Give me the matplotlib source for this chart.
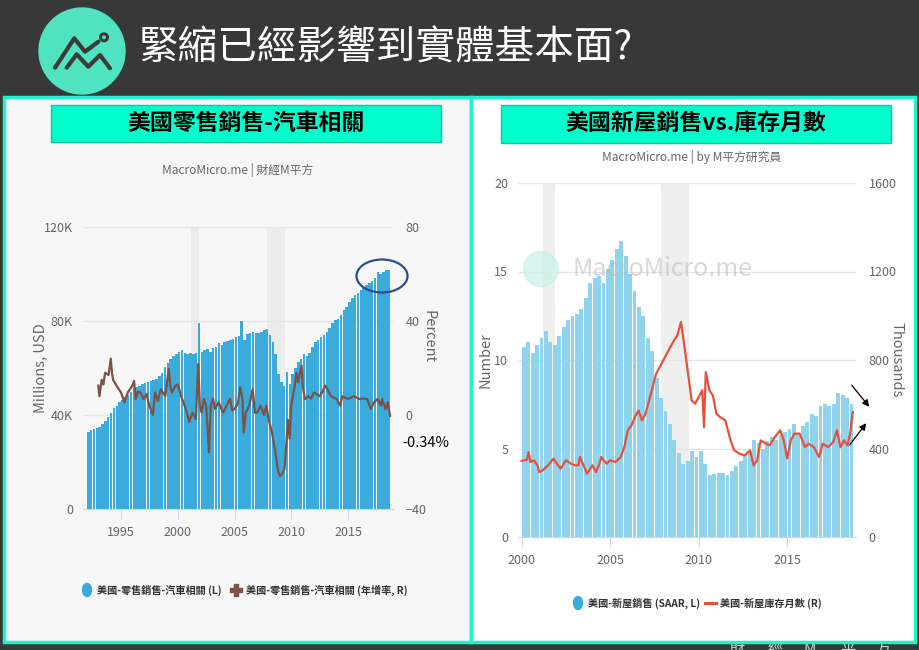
import matplotlib
matplotlib.use("Agg")
import matplotlib.pyplot as plt
from matplotlib.patches import Rectangle, Ellipse, FancyArrowPatch
from matplotlib.lines import Line2D
import numpy as np

plt.rcParams['font.family'] = ['Noto Sans CJK TC', 'DejaVu Sans']

# ---- data: US retail sales, auto related (quarterly, K USD mn) ----
auto_start = 1992
auto_sales = [32.7, 33.5, 34.0, 34.5, 35.0, 36.0, 37.5, 39.0, 41.0, 43.0, 44.0, 45.5,
              46.5, 47.5, 48.5, 50.0, 51.5, 52.0, 52.5, 53.0, 53.5, 54.0, 54.5, 55.0,
              55.5, 56.5, 58.0, 60.5, 62.0, 64.0, 65.0, 66.0, 67.0, 67.5, 66.5, 66.0,
              66.5, 66.0, 66.5, 79.0, 67.0, 67.5, 68.0, 67.0, 68.5, 69.0, 70.5, 70.0,
              71.0, 71.5, 72.0, 72.5, 73.0, 73.5, 80.0, 72.0, 74.5, 75.0, 75.5, 75.0,
              75.0, 75.5, 76.0, 76.5, 74.0, 71.0, 66.0, 57.5, 54.0, 52.5, 58.5, 53.0,
              57.5, 60.0, 62.5, 64.0, 66.0, 65.0, 66.5, 69.0, 71.0, 72.0, 73.0, 74.0,
              75.5, 77.0, 79.0, 80.5, 81.0, 82.5, 84.5, 86.0, 88.0, 90.0, 91.0, 92.0,
              93.0, 94.0, 95.5, 96.0, 97.0, 98.5, 101.0, 100.0, 101.0, 101.5, 101.7]

# year-over-year change (%)
auto_yoy_t = [1993.0, 1993.1, 1993.3, 1993.45, 1993.6, 1993.9, 1994.1, 1994.2, 1994.3, 1994.6,
              1995.0, 1995.3, 1995.6, 1996.0, 1996.15, 1996.3, 1996.5, 1996.7, 1997.0, 1997.25,
              1997.5, 1997.8, 1998.0, 1998.25, 1998.5, 1998.9, 1999.2, 1999.35, 1999.5, 1999.8,
              2000.0, 2000.3, 2000.5, 2000.8, 2001.0, 2001.3, 2001.6, 2001.8, 2001.95, 2002.1,
              2002.3, 2002.5, 2002.75, 2002.9, 2003.1, 2003.3, 2003.6, 2003.8, 2004.0, 2004.3,
              2004.6, 2004.8, 2005.0, 2005.3, 2005.5, 2005.7, 2005.8, 2006.0, 2006.3, 2006.6,
              2006.8, 2007.0, 2007.3, 2007.6, 2007.8, 2008.0, 2008.3, 2008.6, 2008.85, 2009.0,
              2009.2, 2009.4, 2009.55, 2009.7, 2009.85, 2010.0, 2010.3, 2010.45, 2010.6, 2010.9,
              2011.0, 2011.2, 2011.5, 2011.75, 2012.0, 2012.5, 2012.75, 2013.0, 2013.5, 2014.0,
              2014.3, 2014.5, 2015.0, 2015.5, 2016.0, 2016.3, 2016.7, 2017.0, 2017.3, 2017.6,
              2017.9, 2018.0, 2018.3, 2018.5, 2018.7]
auto_yoy = [12.5, 8.0, 15.0, 13.0, 18.0, 17.0, 24.0, 18.0, 15.0, 12.5,
            9.6, 5.4, 9.6, 12.5, 14.5, 6.8, 10.0, 9.6, 6.8, 9.0,
            4.0, 0.0, 9.6, 6.0, 11.0, 8.0, 19.6, 12.0, 9.6, 12.5,
            13.0, 8.0, 5.4, 1.0, -3.0, 1.0, -1.7, 21.7, 4.0, 1.0,
            6.8, 4.0, -16.0, 4.0, 7.0, 2.5, 5.4, 3.0, 1.0, 4.0,
            6.8, 2.0, 2.5, 5.0, 11.8, 6.8, -7.4, 1.0, 4.0, 11.0,
            1.0, 1.0, 4.0, 0.0, 4.0, -1.7, -7.4, -16.0, -24.0, -26.0,
            -25.0, -23.0, -13.0, -2.0, -10.0, 4.0, 12.5, 18.0, 14.0, 21.0,
            12.5, 6.8, 8.0, 7.0, 9.6, 8.0, 10.0, 12.5, 8.0, 6.8,
            4.0, 8.0, 6.8, 8.0, 6.8, 7.0, 6.8, 2.5, 5.4, 6.8,
            4.0, 6.8, 2.5, 5.4, -0.34]

# ---- data: US new home sales (quarterly, K SAAR) and months' supply ----
home_start = 2000
home_sales = [860, 880, 830, 870, 900, 930, 880, 870, 910, 950, 980, 1000,
              1010, 1030, 1080, 1150, 1170, 1180, 1150, 1210, 1250, 1300, 1340, 1270,
              1190, 1110, 1040, 1000, 900, 840, 720, 630, 570, 510, 440, 380,
              330, 345, 390, 360, 390, 330, 280, 285, 290, 290, 280, 300,
              320, 345, 370, 390, 440, 425, 400, 435, 450, 440, 460, 475,
              490, 510, 470, 500, 520, 555, 545, 590, 600, 590, 600, 650,
              640, 630, 600]

supply_t = [2000.0, 2000.3, 2000.4, 2000.5, 2000.7, 2000.9, 2001.0, 2001.2, 2001.5, 2001.8,
            2002.0, 2002.2, 2002.5, 2002.8, 2003.0, 2003.2, 2003.3, 2003.5, 2003.7, 2004.0,
            2004.2, 2004.4, 2004.5, 2004.8, 2005.0, 2005.3, 2005.6, 2005.8, 2006.0, 2006.2,
            2006.4, 2006.6, 2006.8, 2007.0, 2007.2, 2007.4, 2007.6, 2007.8, 2008.0, 2008.2,
            2008.4, 2008.6, 2008.8, 2009.0, 2009.2, 2009.4, 2009.6, 2009.8, 2010.0, 2010.2,
            2010.3, 2010.4, 2010.6, 2010.8, 2011.0, 2011.2, 2011.5, 2011.8, 2012.0, 2012.3,
            2012.6, 2012.9, 2013.1, 2013.3, 2013.5, 2013.8, 2014.0, 2014.3, 2014.6, 2014.8,
            2015.0, 2015.2, 2015.4, 2015.7, 2016.0, 2016.2, 2016.5, 2016.8, 2017.0, 2017.3,
            2017.6, 2017.8, 2018.0, 2018.2, 2018.4, 2018.55, 2018.7]
supply = [4.3, 4.37, 4.8, 4.24, 4.33, 4.05, 3.67, 3.77, 4.05, 4.43,
          4.14, 3.86, 4.33, 4.14, 4.05, 4.05, 4.52, 4.05, 3.58, 4.05,
          3.67, 4.14, 4.52, 4.14, 4.33, 4.24, 4.52, 5.08, 6.03, 6.3,
          6.78, 7.15, 6.59, 6.97, 7.72, 8.47, 9.23, 9.6, 9.98, 10.36,
          10.73, 11.1, 11.4, 12.15, 10.73, 9.23, 7.72, 7.53, 7.9, 8.29,
          6.21, 9.32, 8.29, 8.0, 6.97, 6.78, 6.59, 5.46, 4.9, 4.71,
          4.61, 4.9, 4.05, 4.33, 5.46, 5.27, 5.18, 5.65, 6.03, 5.46,
          4.43, 5.46, 5.84, 5.84, 5.08, 5.27, 5.08, 4.52, 5.27, 5.08,
          5.37, 6.03, 5.08, 5.46, 5.18, 5.84, 7.06]

recessions = [(2001.2, 2001.9), (2007.9, 2009.45)]

W, H = 920, 650


def fx(x):
    return x / W


def fy(y):
    return 1 - y / H


def box(x0, y0, x1, y1, **kw):
    r = Rectangle((fx(x0), fy(y1)), fx(x1) - fx(x0), fy(y0) - fy(y1),
                  transform=fig.transFigure, **kw)
    fig.add_artist(r)
    return r


def disc(x, y, w, h, **kw):
    # ellipse given in pixels (centre, full width, full height)
    e = Ellipse((fx(x), fy(y)), w / W, h / H, transform=fig.transFigure, **kw)
    fig.add_artist(e)
    return e


def style_axes(ax, xticks):
    for s in ['top', 'left', 'right']:
        ax.spines[s].set_visible(False)
    ax.spines['bottom'].set_color('#ccd6eb')
    ax.set_xticks(xticks)
    ax.tick_params(axis='x', length=7, color='#ccd6eb', labelcolor='#666666',
                   labelsize=9, pad=5)
    ax.tick_params(axis='y', length=0, labelcolor='#666666', labelsize=9)
    ax.grid(axis='y', color='#e6e6e6', lw=1)
    ax.set_axisbelow(True)


fig = plt.figure(figsize=(9.2, 6.5), dpi=100, facecolor='#383838')

# header
disc(82, 51, 86, 86, color='#50e3c2', zorder=2)
logo_a = [(55, 67.7), (74.3, 38.3), (85, 51.7), (98.3, 41.7)]
logo_b = [(66.7, 67.7), (76.7, 54.3), (88.3, 66.7), (100, 55), (110, 68.3)]
for pts in (logo_a, logo_b):
    fig.add_artist(Line2D([fx(p[0]) for p in pts], [fy(p[1]) for p in pts],
                          transform=fig.transFigure, color='#3a3a3a', lw=3,
                          solid_capstyle='round', zorder=3))
disc(104, 37.3, 7, 7, fill=False, ec='#3a3a3a', lw=2.2, zorder=3)
fig.text(fx(138), fy(49), '緊縮已經影響到實體基本面?', color='white', fontsize=28.5,
         va='center', ha='left')

# faint footer, mostly hidden behind the right panel
for xx, ch in zip([737, 775, 810, 848, 883], ['財', '經', 'M', '平', '方']):
    fig.text(fx(xx), fy(641), ch, color='#cfcfcf', fontsize=11, ha='center',
             va='top', zorder=0.5)

# panels
box(4, 97, 471, 642, facecolor='#f7f7f7', edgecolor='#1ff2cc', lw=2.5, zorder=1)
box(471, 97, 915, 642, facecolor='white', edgecolor='#1ff2cc', lw=2.5, zorder=1)
box(51, 105, 441, 142, facecolor='#00ffcc', edgecolor='#10c8a0', lw=1, zorder=2)
box(501, 105, 891, 143, facecolor='#00ffcc', edgecolor='#10c8a0', lw=1, zorder=2)
fig.text(fx(246), fy(123.5), '美國零售銷售-汽車相關', fontsize=16.5, fontweight='bold',
         ha='center', va='center', zorder=3)
fig.text(fx(696), fy(124), '美國新屋銷售vs.庫存月數', fontsize=16.5, fontweight='bold',
         ha='center', va='center', zorder=3)
fig.text(fx(238), fy(170), 'MacroMicro.me | 財經M平方', fontsize=8.5, color='#666666',
         ha='center', va='center')
fig.text(fx(692), fy(157), 'MacroMicro.me | by M平方研究員', fontsize=8.5,
         color='#666666', ha='center', va='center')

# ---- left chart ----
ax1 = fig.add_axes([fx(84), fy(509), fx(393) - fx(84), fy(227) - fy(509)])
ax1.set_zorder(5)
ax1.patch.set_visible(False)
x_auto = auto_start + 0.125 + 0.25 * np.arange(len(auto_sales))
for a, b in recessions:
    ax1.axvspan(a, b, color='#ececec', lw=0, zorder=0)
ax1.bar(x_auto, np.array(auto_sales) * 1000, width=0.22, color='#3aabdb', zorder=1)
ax1.set_xlim(1991.74, 2018.96)
ax1.set_ylim(0, 120000)
ax1.set_yticks([0, 40000, 80000, 120000])
ax1.set_yticklabels(['0', '40K', '80K', '120K'])
style_axes(ax1, [1995, 2000, 2005, 2010, 2015])
ax1.tick_params(axis='y', pad=8)

ax1r = ax1.twinx()
ax1r.set_zorder(6)
ax1r.plot(auto_yoy_t, auto_yoy, color='#7a5246', lw=1.6, zorder=3)
ax1r.set_ylim(-40, 80)
ax1r.set_yticks([-40, 0, 40, 80])
for s in ax1r.spines.values():
    s.set_visible(False)
ax1r.tick_params(axis='y', length=0, labelcolor='#666666', labelsize=9, pad=9)
ax1.yaxis.tick_left()

fig.text(fx(40), fy(368), 'Millions, USD', rotation=90, fontsize=10.5,
         color='#666666', ha='center', va='center')
fig.text(fx(429), fy(337), 'Percent', rotation=270, fontsize=10.5,
         color='#666666', ha='center', va='center')
fig.text(fx(426), fy(443), '-0.34%', fontsize=10.5, color='black',
         ha='center', va='center', zorder=10)
disc(382, 276, 51, 33, fill=False, ec='#2e4d8c', lw=1.6, zorder=10)

# left legend
disc(87, 590, 9, 13, color='#3aabdb', zorder=3)
fig.text(fx(97), fy(590), '美國-零售銷售-汽車相關 (L)', fontsize=7.3,
         fontweight='bold', color='#333333', va='center', ha='left')
fig.add_artist(Line2D([fx(236)], [fy(590)], marker='P', markersize=9,
                      color='#7a5246', transform=fig.transFigure))
fig.text(fx(246), fy(590), '美國-零售銷售-汽車相關 (年增率, R)', fontsize=7.3,
         fontweight='bold', color='#333333', va='center', ha='left')

# ---- right chart: bars on the right scale, months' supply on the left ----
ax2 = fig.add_axes([fx(518), fy(537), fx(856) - fx(518), fy(183) - fy(537)])
ax2.set_zorder(5)
ax2.patch.set_visible(False)
x_home = home_start + 0.125 + 0.25 * np.arange(len(home_sales))
for a, b in recessions:
    ax2.axvspan(a, b, color='#efefef', lw=0, zorder=0)
ax2.bar(x_home, home_sales, width=0.22, color='#8fd3ec', zorder=1)
ax2.set_xlim(1999.8, 2018.88)
ax2.set_ylim(0, 1600)
ax2.set_yticks([0, 400, 800, 1200, 1600])
style_axes(ax2, [2000, 2005, 2010, 2015])

ax2l = ax2.twinx()
ax2l.set_zorder(6)
ax2l.plot(supply_t, supply, color='#e8503a', lw=1.6, zorder=3)
ax2l.set_ylim(0, 20)
ax2l.set_yticks([0, 5, 10, 15, 20])
for s in ax2l.spines.values():
    s.set_visible(False)
ax2l.yaxis.tick_left()
ax2l.tick_params(axis='y', length=0, labelcolor='#666666', labelsize=9, pad=7)
ax2.yaxis.tick_right()
ax2.tick_params(axis='y', length=0, pad=9)

# watermark
disc(541, 269, 35, 35, color='#c9f3e8', alpha=0.75, zorder=10)
fig.text(fx(573), fy(269), 'MacroMicro.me', fontsize=18, color='#bbbbbb', alpha=0.55,
         ha='left', va='center', zorder=10)

fig.text(fx(486), fy(360), 'Number', rotation=90, fontsize=10.5, color='#666666',
         ha='center', va='center')
fig.text(fx(897), fy(360), 'Thousands', rotation=270, fontsize=10.5, color='#666666',
         ha='center', va='center')

# arrows
fig.add_artist(FancyArrowPatch((fx(850), fy(383)), (fx(871), fy(409)),
                               transform=fig.transFigure, arrowstyle='-|>',
                               mutation_scale=10, color='black', lw=0.9, zorder=10))
fig.add_artist(FancyArrowPatch((fx(848), fy(447)), (fx(868), fy(421)),
                               transform=fig.transFigure, arrowstyle='-|>',
                               mutation_scale=10, color='black', lw=0.9, zorder=10))

# right legend
disc(578, 603, 9, 13, color='#3aabdb', zorder=3)
fig.text(fx(588), fy(603), '美國-新屋銷售 (SAAR, L)', fontsize=7.3,
         fontweight='bold', color='#333333', va='center', ha='left')
fig.add_artist(Line2D([fx(705), fx(716)], [fy(603), fy(603)], color='#e8503a', lw=2.2,
                      transform=fig.transFigure))
fig.text(fx(720), fy(603), '美國-新屋庫存月數 (R)', fontsize=7.3,
         fontweight='bold', color='#333333', va='center', ha='left')

fig.savefig('out.png', dpi=100, facecolor=fig.get_facecolor())
